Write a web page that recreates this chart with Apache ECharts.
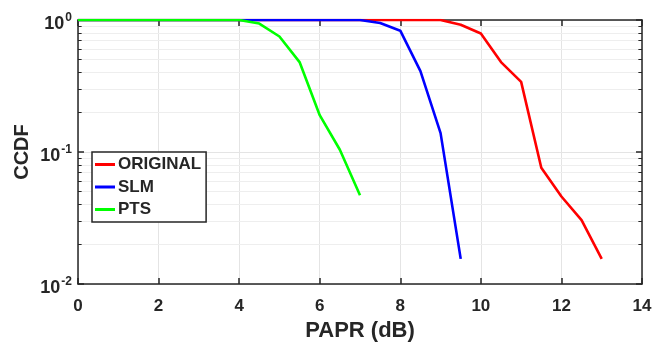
<!DOCTYPE html>
<html>
<head>
<meta charset="utf-8">
<script src="https://cdn.jsdelivr.net/npm/echarts@6/dist/echarts.min.js"></script>
<style>
html,body{margin:0;padding:0;background:#fff;}
#chart{width:653px;height:342px;}
</style>
</head>
<body>
<div id="chart"></div>
<script>
// ---- data ----
const seriesNames = ['ORIGINAL', 'SLM', 'PTS'];

const originalX = [0, 1, 2, 3, 4, 5, 6, 7, 8, 9, 9.5, 10, 10.5, 11, 11.5, 12, 12.5, 13];
const originalY = [1, 1, 1, 1, 1, 1, 1, 1, 1, 1, 0.92, 0.79, 0.48, 0.34, 0.076, 0.046, 0.0305, 0.0155];

const slmX = [0, 1, 2, 3, 4, 5, 6, 7, 7.5, 8, 8.5, 9, 9.5];
const slmY = [1, 1, 1, 1, 1, 1, 1, 1, 0.95, 0.83, 0.41, 0.139, 0.0155];

const ptsX = [0, 1, 2, 3, 4, 4.5, 5, 5.5, 6, 6.5, 7];
const ptsY = [1, 1, 1, 1, 1, 0.94, 0.75, 0.48, 0.19, 0.104, 0.047];

const xTicks = [0, 2, 4, 6, 8, 10, 12, 14];
const yMinorValues = [0.02, 0.03, 0.04, 0.05, 0.06, 0.07, 0.08, 0.09,
                      0.2, 0.3, 0.4, 0.5, 0.6, 0.7, 0.8, 0.9];

// ---- chart ----
const FONT = '"Liberation Sans", Arial, Helvetica, sans-serif';
const INK = '#262626';
const pairs = (xs, ys) => xs.map((x, i) => [x, ys[i]]);

const xMin = xTicks[0], xMax = xTicks[xTicks.length - 1];
const minorGrid = yMinorValues.map(v => [{coord: [xMin, v]}, {coord: [xMax, v]}]);
const minorTicks = [];
yMinorValues.forEach(v => {
  minorTicks.push([{coord: [xMin, v]}, {coord: [xMin + 0.09, v]}]);
  minorTicks.push([{coord: [xMax, v]}, {coord: [xMax - 0.09, v]}]);
});

const chart = echarts.init(document.getElementById('chart'), null, {renderer: 'canvas'});
const option = {
  animation: false,
  backgroundColor: '#ffffff',
  textStyle: {fontFamily: FONT},
  grid: {left: 78, right: 11, top: 20, bottom: 58, containLabel: false, outerBoundsMode: 'none'},
  legend: {
    data: seriesNames,
    orient: 'vertical',
    left: 92, top: 152,
    z: 50, zlevel: 0,
    padding: [4, 5, 4, 3],
    itemWidth: 20, itemHeight: 3,
    itemGap: 5.5,
    icon: 'rect',
    backgroundColor: '#ffffff',
    borderColor: INK, borderWidth: 1.5, borderRadius: 0,
    textStyle: {fontFamily: FONT, fontWeight: 'bold', fontSize: 17, color: INK, lineHeight: 17, padding: [0, 0, 0, -2]},
    selectedMode: false
  },
  xAxis: [{
    type: 'value', position: 'bottom',
    min: 0, max: 14, interval: 2,
    name: 'PAPR (dB)', nameLocation: 'middle', nameGap: 36, nameMoveOverlap: false,
    nameTextStyle: {fontFamily: FONT, fontWeight: 'bold', fontSize: 22, color: INK},
    axisLine: {show: true, onZero: false, lineStyle: {color: INK, width: 1.5}},
    axisTick: {show: true, inside: true, length: 6, lineStyle: {color: INK, width: 1.5}},
    axisLabel: {show: true, margin: 14, fontFamily: FONT, fontWeight: 'bold', fontSize: 17, color: INK},
    splitLine: {show: true, lineStyle: {color: '#e4e4e4', width: 1}}
  }, {
    type: 'value', position: 'top',
    min: 0, max: 14, interval: 2,
    axisLine: {show: true, onZero: false, lineStyle: {color: INK, width: 1.5}},
    axisTick: {show: true, inside: true, length: 6, lineStyle: {color: INK, width: 1.5}},
    axisLabel: {show: false},
    splitLine: {show: false}
  }],
  yAxis: [{
    type: 'log', logBase: 10, position: 'left',
    min: 0.01, max: 1,
    name: 'CCDF', nameLocation: 'middle', nameGap: 46, nameMoveOverlap: false,
    nameTextStyle: {fontFamily: FONT, fontWeight: 'bold', fontSize: 20, color: INK},
    axisLine: {show: true, onZero: false, lineStyle: {color: INK, width: 1.5}},
    axisTick: {show: true, inside: true, length: 6, lineStyle: {color: INK, width: 1.5}},
    axisLabel: {
      show: true, margin: 6,
      formatter: v => '{b|10}{s|' + Math.round(Math.log10(v)) + '}',
      rich: {
        b: {fontFamily: FONT, fontWeight: 'bold', fontSize: 18, lineHeight: 18, color: INK, padding: [9, 0, 0, 0]},
        s: {fontFamily: FONT, fontWeight: 'bold', fontSize: 12, lineHeight: 12, color: INK, padding: [0, 0, 4, 1]}
      }
    },
    splitLine: {show: true, lineStyle: {color: '#e4e4e4', width: 1}}
  }, {
    type: 'log', logBase: 10, position: 'right',
    min: 0.01, max: 1,
    axisLine: {show: true, onZero: false, lineStyle: {color: INK, width: 1.5}},
    axisTick: {show: true, inside: true, length: 6, lineStyle: {color: INK, width: 1.5}},
    axisLabel: {show: false},
    splitLine: {show: false}
  }],
  series: [{
    name: 'grid-minor', type: 'line', data: [], z: 0, silent: true,
    markLine: {silent: true, symbol: ['none', 'none'], label: {show: false}, animation: false,
      lineStyle: {color: '#eeeeee', width: 1, type: 'solid'}, data: minorGrid}
  }, {
    name: 'tick-minor', type: 'line', data: [], z: 1, silent: true,
    markLine: {silent: true, symbol: ['none', 'none'], label: {show: false}, animation: false,
      lineStyle: {color: INK, width: 1, type: 'solid'}, data: minorTicks}
  }, {
    name: seriesNames[0], type: 'line', z: 5, showSymbol: false, symbol: 'none',
    data: pairs(originalX, originalY),
    itemStyle: {color: '#ff0000'}, lineStyle: {color: '#ff0000', width: 2.6}
  }, {
    name: seriesNames[1], type: 'line', z: 5, showSymbol: false, symbol: 'none',
    data: pairs(slmX, slmY),
    itemStyle: {color: '#0000ff'}, lineStyle: {color: '#0000ff', width: 2.6}
  }, {
    name: seriesNames[2], type: 'line', z: 6, showSymbol: false, symbol: 'none',
    data: pairs(ptsX, ptsY),
    itemStyle: {color: '#00ff00'}, lineStyle: {color: '#00ff00', width: 2.6}
  }]
};
chart.setOption(option);
</script>
</body>
</html>
